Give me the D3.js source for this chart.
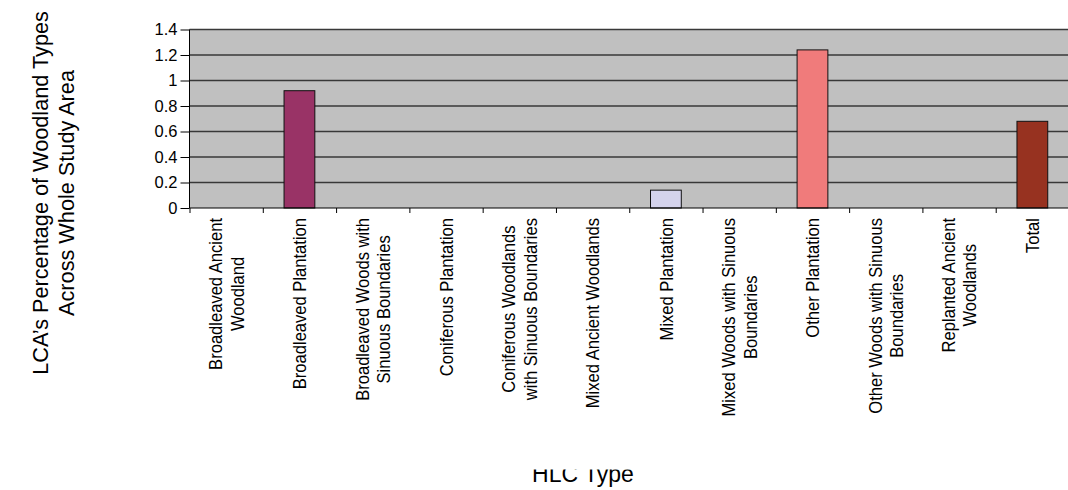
<!DOCTYPE html>
<html>
<head>
<meta charset="utf-8">
<script src="https://cdn.jsdelivr.net/npm/d3@7"></script>
<style>
  html, body { margin: 0; padding: 0; background: #fff; }
  svg { display: block; font-family: "Liberation Sans", Arial, sans-serif; }
</style>
</head>
<body>
<svg id="chart" width="1068" height="490"></svg>
<script>
// HLC woodland types (label lines as wrapped on the axis)
const categories = [
  ["Broadleaved Ancient", "Woodland"],
  ["Broadleaved Plantation"],
  ["Broadleaved Woods with", "Sinuous Boundaries"],
  ["Coniferous Plantation"],
  ["Coniferous Woodlands", "with Sinuous Boundaries"],
  ["Mixed Ancient Woodlands"],
  ["Mixed Plantation"],
  ["Mixed Woods with Sinuous", "Boundaries"],
  ["Other Plantation"],
  ["Other Woods with Sinuous", "Boundaries"],
  ["Replanted Ancient", "Woodlands"],
  ["Total"]
];
// LCA's percentage of each woodland type across the whole study area
const values = [0, 0.92, 0, 0, 0, 0, 0.14, 0, 1.24, 0, 0, 0.68];
const barColors = ["#993366", "#993366", "#993366", "#993366", "#993366", "#993366",
                   "#d4d3ec", "#993366", "#f07b7b", "#993366", "#993366", "#973220"];
const yTicks = [0, 0.2, 0.4, 0.6, 0.8, 1, 1.2, 1.4];
const yTitle = ["LCA\u2019s Percentage of Woodland Types", "Across Whole Study Area"];
const xTitle = "HLC Type";

const svg = d3.select("#chart");
const plotLeft = 189.5, plotRight = 1069, plotTop = 29.5, plotBottom = 208;
const n = categories.length;

const x = d3.scaleBand().domain(d3.range(n)).range([plotLeft, plotRight]).padding(0);
const xEdge = d3.scaleLinear().domain([0, n]).range([plotLeft, plotRight]);
const y = d3.scaleLinear().domain([0, 1.4]).range([plotBottom, plotTop]);

// plot background
svg.append("rect")
  .attr("x", plotLeft).attr("y", plotTop)
  .attr("width", plotRight - plotLeft).attr("height", plotBottom - plotTop)
  .attr("fill", "#c0c0c0");

// horizontal gridlines
svg.append("g")
  .selectAll("line")
  .data(yTicks.filter(d => d > 0))
  .join("line")
  .attr("x1", plotLeft).attr("x2", plotRight)
  .attr("y1", d => y(d)).attr("y2", d => y(d))
  .attr("stroke", "#383838").attr("stroke-width", 1.3);

// bars
const bw = x.bandwidth() * 0.42;
svg.append("g")
  .selectAll("rect")
  .data(values.map((v, i) => ({ v, i })).filter(d => d.v > 0))
  .join("rect")
  .attr("x", d => x(d.i) + (x.bandwidth() - bw) / 2)
  .attr("y", d => y(d.v))
  .attr("width", bw)
  .attr("height", d => y(0) - y(d.v))
  .attr("fill", d => barColors[d.i])
  .attr("stroke", "#111").attr("stroke-width", 1);

// y axis
const yAxis = svg.append("g")
  .attr("transform", `translate(${plotLeft},0)`)
  .call(d3.axisLeft(y).tickValues(yTicks).tickSize(9).tickPadding(3).tickFormat(d => String(d)));
yAxis.selectAll("path, line").attr("stroke", "#000");
yAxis.selectAll("text")
  .attr("font-size", 16.5)
  .attr("font-family", "Liberation Sans, Arial, sans-serif")
  .attr("fill", "#000");
yAxis.select(".domain").attr("d", `M0,${plotBottom}V${plotTop}`);

// x axis with ticks between categories
const xAxis = svg.append("g")
  .attr("transform", `translate(0,${plotBottom})`)
  .call(d3.axisBottom(xEdge).tickValues(d3.range(n + 1)).tickSize(5).tickFormat(""));
xAxis.selectAll("path, line").attr("stroke", "#000");
xAxis.select(".domain").attr("d", `M${plotLeft},0H${plotRight}`);

// rotated category labels, top-aligned under the axis, lines centred
const lineGap = 21.5;
const labels = svg.append("g")
  .selectAll("g")
  .data(categories)
  .join("g")
  .attr("transform", (d, i) => `translate(${x(i) + x.bandwidth() / 2},218) rotate(-90) scale(0.9,1)`);

labels.each(function(lines) {
  const g = d3.select(this);
  const texts = g.selectAll("text")
    .data(lines)
    .join("text")
    .attr("text-anchor", "middle")
    .attr("font-size", 18.4)
    .attr("fill", "#000")
    .attr("y", (d, k) => (k - (lines.length - 1) / 2) * lineGap)
    .attr("dy", "0.36em")
    .text(d => d);
  let maxW = 0;
  texts.each(function() { maxW = Math.max(maxW, this.getComputedTextLength()); });
  texts.attr("x", -maxW / 2);
});

// y axis title
svg.append("g")
  .attr("transform", "translate(53,193) rotate(-90)")
  .selectAll("text")
  .data(yTitle)
  .join("text")
  .attr("text-anchor", "middle")
  .attr("font-size", 21.7)
  .attr("fill", "#000")
  .attr("y", (d, k) => (k - 0.5) * 25.5)
  .attr("dy", "0.36em")
  .text(d => d);

// x axis title, cut along its top edge
svg.append("clipPath").attr("id", "xtitle-clip")
  .append("rect").attr("x", 0).attr("y", 469.5).attr("width", 1068).attr("height", 30);
svg.append("text")
  .attr("clip-path", "url(#xtitle-clip)")
  .attr("x", 583).attr("y", 481.5)
  .attr("text-anchor", "middle")
  .attr("font-size", 23)
  .attr("fill", "#000")
  .text(xTitle);
</script>
</body>
</html>
